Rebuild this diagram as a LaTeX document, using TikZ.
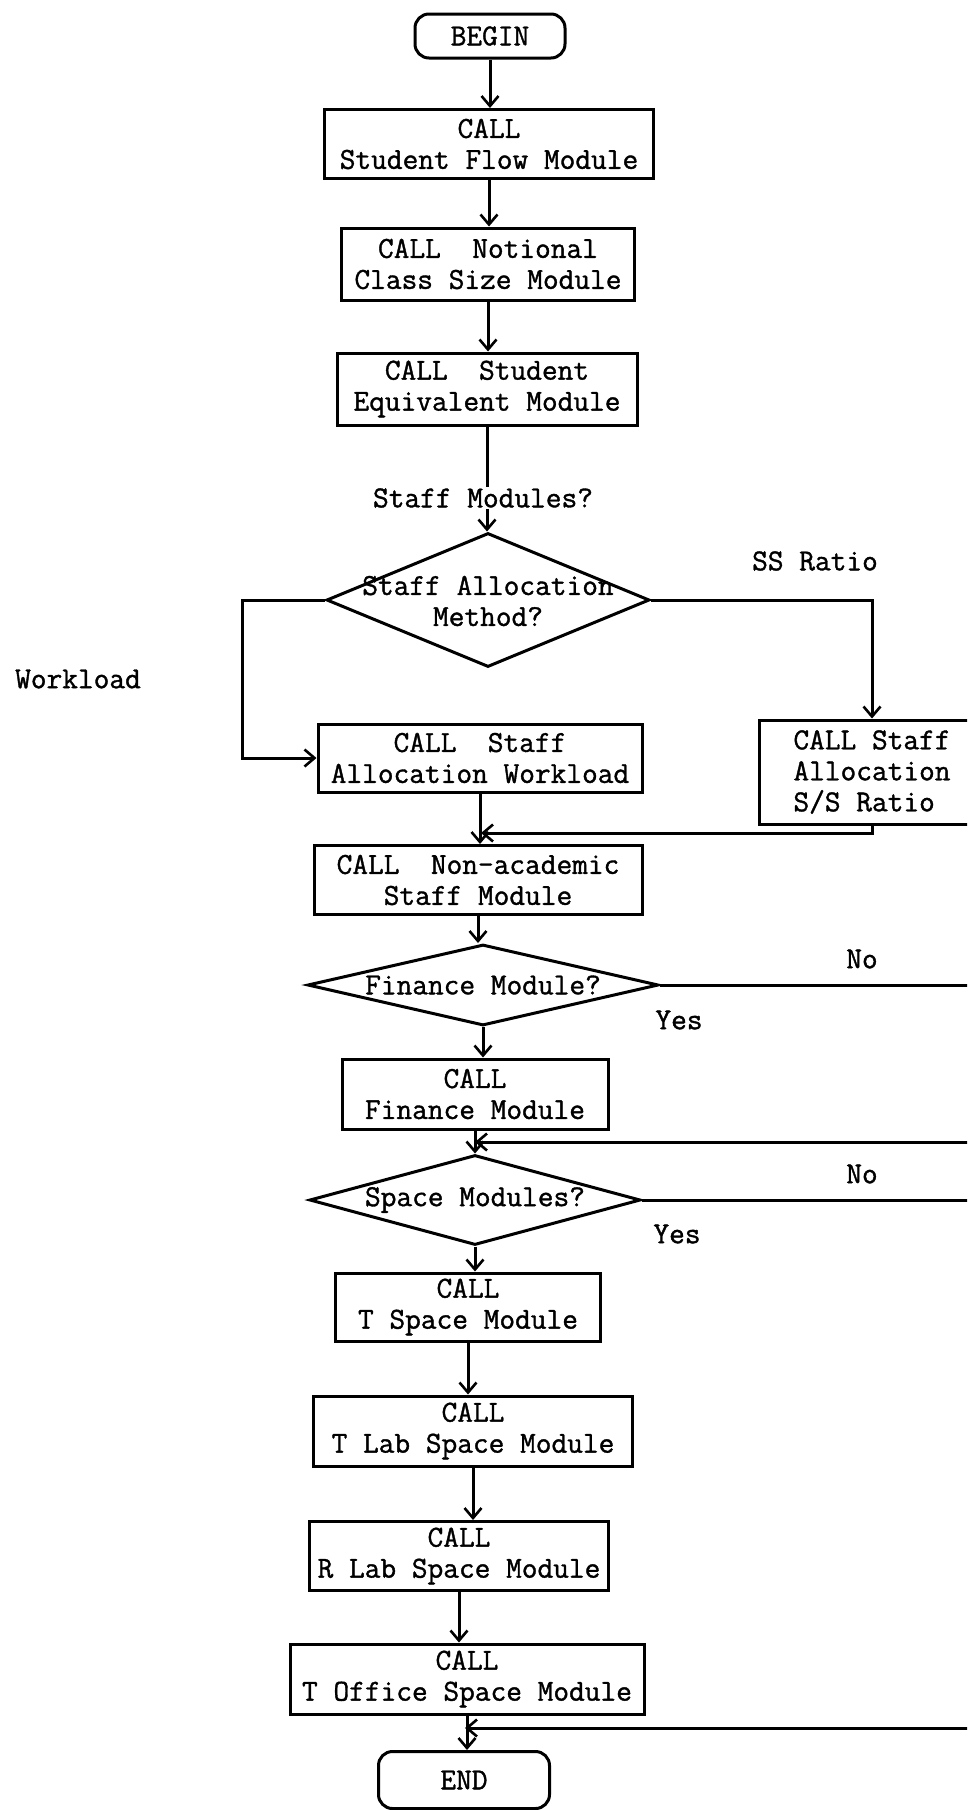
\documentclass[tikz,border=0pt]{standalone}
\usepackage{fontspec}
\newfontfamily\twfont[FakeBold=1.2]{Latin Modern Mono}
\usetikzlibrary{shapes.geometric,arrows.meta}
\begin{document}
\begin{tikzpicture}[x=1pt,y=-1pt,
  every node/.style={font=\twfont\fontsize{30.5}{31}\selectfont},
  box/.style={draw,line width=3pt,rectangle,inner sep=0pt,align=center},
  term/.style={box,rounded corners=14pt},
  dia/.style={draw,line width=3pt,diamond,inner sep=0pt},
  lbl/.style={inner sep=1pt,align=center},
  conn/.style={line width=3pt},
  arr/.style={conn,-{Straight Barb[length=10pt,width=17pt,line width=2.6pt]}},
]
\useasboundingbox (0,0) rectangle (967,1810);
\clip (0,0) rectangle (967,1810);

% main column
\node[term,minimum width=150pt,minimum height=44pt] (begin) at (490,36) {BEGIN};
\node[box,minimum width=329pt,minimum height=69pt] (sf) at (489,144) {CALL\\Student Flow Module};
\node[box,minimum width=293pt,minimum height=72pt] (ncs) at (488,264) {CALL\ \ Notional\\Class Size Module};
\node[box,minimum width=300pt,minimum height=72pt] (se) at (487,389) {CALL\ \ Student\\Equivalent Module};
\node[lbl] (smq) at (483,498) {Staff Modules?};
\node[dia,minimum width=323pt,minimum height=134pt] (d1) at (488,600) {};
\node[lbl] (d1t) at (488,601) {Staff Allocation\\Method?};
\node[lbl] (wl) at (78,679) {Workload};
\node[lbl] (ssr) at (815,561) {SS Ratio};
\node[box,minimum width=324pt,minimum height=68pt] (wlbox) at (480,758) {CALL\ \ Staff\\Allocation Workload};
\node[box,minimum width=226pt,minimum height=104pt,align=left] (ssbox) at (872,772) {CALL Staff\\Allocation\\S/S Ratio};
\node[box,minimum width=328pt,minimum height=69pt] (na) at (478,880) {CALL\ \ Non-academic\\Staff Module};
\node[dia,minimum width=351pt,minimum height=81pt] (d2) at (483,985) {};
\node[lbl] (d2t) at (483,985) {Finance Module?};
\node[lbl] (no1) at (862,959) {No};
\node[lbl] (yes1) at (679,1020) {Yes};
\node[box,minimum width=266pt,minimum height=70pt] (fin) at (475,1094) {CALL\\Finance Module};
\node[dia,minimum width=331pt,minimum height=90pt] (d3) at (475,1200) {};
\node[lbl] (d3t) at (475,1200) {Space Modules?};
\node[lbl] (no2) at (862,1174) {No};
\node[lbl] (yes2) at (677,1234) {Yes};
\node[box,minimum width=265pt,minimum height=68pt] (ts) at (468,1307) {CALL\\T Space Module};
\node[box,minimum width=319pt,minimum height=70pt] (tl) at (473,1431) {CALL\\T Lab Space Module};
\node[box,minimum width=299pt,minimum height=69pt] (rl) at (459,1556) {CALL\\R Lab Space Module};
\node[box,minimum width=354pt,minimum height=70pt] (to) at (467,1679) {CALL\\T Office Space Module};
\node[term,minimum width=171pt,minimum height=57pt] (end) at (464,1780) {END};

% free ends at the right edge
\coordinate (r1) at (970,985);
\coordinate (r2) at (970,1142);
\coordinate (r3) at (970,1200);
\coordinate (r4) at (970,1728);
\coordinate (m1) at (481,833);
\coordinate (m2) at (475,1142);
\coordinate (m4) at (465,1728);

% connectors
\draw[arr] (begin.south) -- (begin.south |- sf.north);
\draw[arr] (sf.south) -- (sf.south |- ncs.north);
\draw[arr] (ncs.south) -- (ncs.south |- se.north);
\draw[conn] (se.south) -- (se.south |- smq.north);
\draw[arr] (se.south |- smq.south) -- (se.south |- d1.north);
\draw[arr] (d1.west) -- ++(-83,0) |- (wlbox.west);
\draw[arr] (d1.east) -| (ssbox.north);
\draw[arr] (wlbox.south) -- (wlbox.south |- na.north);
\draw[arr] (ssbox.south) |- (m1);
\draw[arr] (na.south) -- (na.south |- d2.north);
\draw[conn] (d2.east) -- (r1);
\draw[arr] (d2.south) -- (d2.south |- fin.north);
\draw[arr] (fin.south) -- (fin.south |- d3.north);
\draw[arr] (r2) -- (m2);
\draw[conn] (d3.east) -- (r3);
\draw[arr] (d3.south) -- (d3.south |- ts.north);
\draw[arr] (ts.south) -- (ts.south |- tl.north);
\draw[arr] (tl.south) -- (tl.south |- rl.north);
\draw[arr] (rl.south) -- (rl.south |- to.north);
\draw[arr] (to.south) -- (to.south |- end.north);
\draw[arr] (r4) -- (m4);
\end{tikzpicture}
\end{document}
